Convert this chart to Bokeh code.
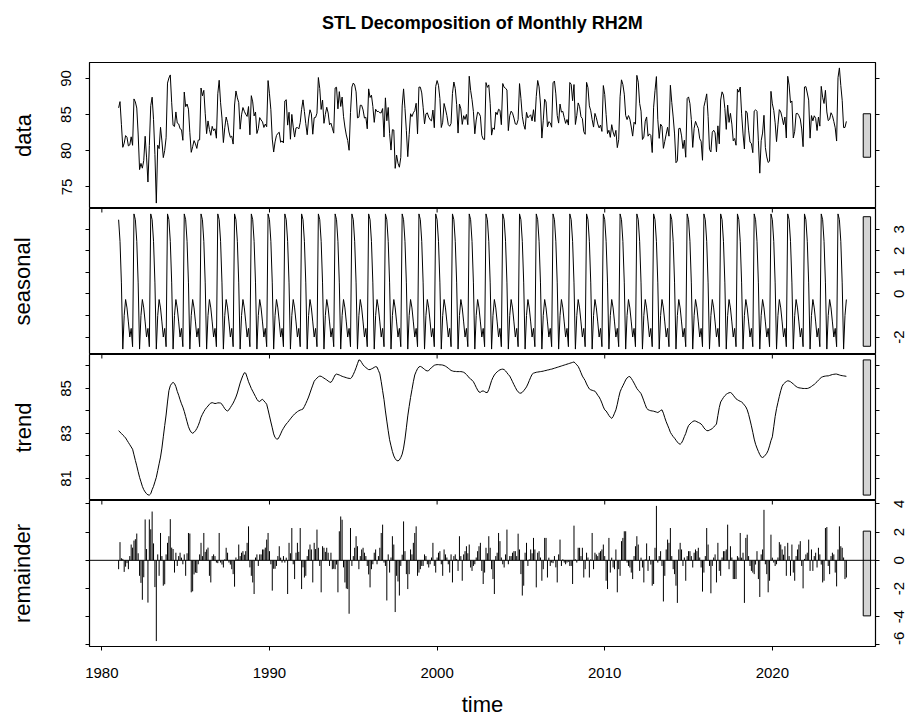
import math
from bokeh.plotting import figure
from bokeh.layouts import column, row
from bokeh.models import Range1d, LinearAxis, FixedTicker, Span
from bokeh.core.properties import value
from bokeh.embed import file_html
from bokeh.resources import INLINE

TITLE = "STL Decomposition of Monthly RH2M"
START_YEAR = 1981  # monthly series, January 1981 onwards

# periodic seasonal component (Jan..Dec)
SEASONAL_PATTERN = [3.44, 2.44, 0.51, -2.56, -1.00, -0.26, -0.65, -1.30, -2.00, -1.60, -2.45, 3.71]

TREND = [
    83.12, 83.06, 83.00, 82.93, 82.87, 82.80, 82.70, 82.60, 82.50, 82.40, 82.30, 82.05,  # 1981
    81.80, 81.56, 81.30, 81.05, 80.85, 80.65, 80.50, 80.40, 80.32, 80.27, 80.26, 80.32,  # 1982
    80.50, 80.65, 80.85, 81.05, 81.35, 81.65, 81.95, 82.35, 82.85, 83.35, 83.82, 84.40,  # 1983
    84.90, 85.12, 85.22, 85.27, 85.22, 85.08, 84.87, 84.70, 84.50, 84.32, 84.17, 83.98,  # 1984
    83.75, 83.52, 83.30, 83.15, 83.05, 83.01, 83.05, 83.12, 83.22, 83.35, 83.52, 83.72,  # 1985
    83.85, 83.97, 84.07, 84.15, 84.22, 84.30, 84.35, 84.37, 84.35, 84.33, 84.34, 84.36,  # 1986
    84.36, 84.35, 84.30, 84.20, 84.10, 84.03, 84.00, 84.05, 84.15, 84.25, 84.35, 84.48,  # 1987
    84.62, 84.80, 85.02, 85.24, 85.42, 85.58, 85.70, 85.68, 85.50, 85.30, 85.15, 85.00,  # 1988
    84.88, 84.76, 84.64, 84.52, 84.44, 84.42, 84.48, 84.52, 84.45, 84.38, 84.30, 84.05,  # 1989
    83.78, 83.51, 83.25, 82.98, 82.82, 82.76, 82.75, 82.85, 82.98, 83.12, 83.23, 83.33,  # 1990
    83.42, 83.49, 83.57, 83.65, 83.73, 83.80, 83.87, 83.92, 83.97, 84.01, 84.04, 84.06,  # 1991
    84.09, 84.20, 84.33, 84.47, 84.62, 84.80, 84.98, 85.15, 85.32, 85.40, 85.46, 85.52,  # 1992
    85.55, 85.54, 85.50, 85.46, 85.42, 85.38, 85.33, 85.29, 85.27, 85.35, 85.48, 85.60,  # 1993
    85.64, 85.62, 85.60, 85.57, 85.54, 85.52, 85.50, 85.48, 85.46, 85.45, 85.44, 85.50,  # 1994
    85.62, 85.76, 85.92, 86.10, 86.27, 86.25, 86.15, 86.05, 85.98, 85.93, 85.88, 85.84,  # 1995
    85.84, 85.87, 85.90, 85.94, 85.97, 85.95, 85.80, 85.65, 85.30, 84.90, 84.50, 84.00,  # 1996
    83.55, 83.12, 82.72, 82.45, 82.20, 82.00, 81.88, 81.80, 81.78, 81.82, 81.93, 82.08,  # 1997
    82.35, 82.75, 83.25, 83.78, 84.20, 84.60, 84.95, 85.30, 85.60, 85.75, 85.88, 85.96,  # 1998
    85.98, 85.95, 85.90, 85.85, 85.80, 85.78, 85.80, 85.86, 85.93, 85.98, 86.03, 86.05,  # 1999
    86.06, 86.06, 86.05, 86.05, 86.04, 86.02, 85.99, 85.95, 85.90, 85.85, 85.80, 85.78,  # 2000
    85.76, 85.76, 85.75, 85.75, 85.75, 85.75, 85.74, 85.72, 85.68, 85.62, 85.55, 85.47,  # 2001
    85.42, 85.37, 85.30, 85.18, 85.05, 84.93, 84.84, 84.83, 84.88, 84.89, 84.86, 84.82,  # 2002
    84.82, 84.95, 85.15, 85.35, 85.49, 85.60, 85.68, 85.74, 85.79, 85.83, 85.85, 85.86,  # 2003
    85.84, 85.78, 85.70, 85.62, 85.55, 85.43, 85.30, 85.17, 85.05, 84.93, 84.85, 84.80,  # 2004
    84.79, 84.83, 84.90, 84.98, 85.07, 85.20, 85.35, 85.50, 85.63, 85.68, 85.70, 85.72,  # 2005
    85.73, 85.74, 85.75, 85.76, 85.77, 85.79, 85.80, 85.82, 85.83, 85.85, 85.86, 85.88,  # 2006
    85.90, 85.92, 85.94, 85.96, 85.98, 86.00, 86.02, 86.04, 86.06, 86.08, 86.10, 86.12,  # 2007
    86.14, 86.16, 86.18, 86.12, 86.05, 85.98, 85.85, 85.70, 85.55, 85.45, 85.35, 85.20,  # 2008
    85.08, 84.98, 84.94, 84.92, 84.90, 84.88, 84.80, 84.70, 84.62, 84.50, 84.35, 84.18,  # 2009
    84.05, 84.00, 83.90, 83.80, 83.72, 83.67, 83.75, 83.90, 84.05, 84.30, 84.60, 84.85,  # 2010
    85.00, 85.12, 85.25, 85.38, 85.47, 85.52, 85.53, 85.45, 85.35, 85.24, 85.12, 85.00,  # 2011
    84.92, 84.85, 84.77, 84.62, 84.45, 84.28, 84.12, 84.06, 84.03, 84.01, 84.00, 83.99,  # 2012
    83.97, 83.95, 83.93, 83.97, 84.02, 84.05, 83.90, 83.70, 83.52, 83.37, 83.22, 83.05,  # 2013
    82.95, 82.86, 82.79, 82.70, 82.62, 82.55, 82.52, 82.58, 82.70, 82.86, 83.00, 83.20,  # 2014
    83.35, 83.42, 83.48, 83.53, 83.56, 83.55, 83.52, 83.49, 83.46, 83.42, 83.35, 83.25,  # 2015
    83.18, 83.13, 83.12, 83.15, 83.18, 83.22, 83.28, 83.35, 83.42, 83.80, 84.15, 84.40,  # 2016
    84.50, 84.60, 84.68, 84.74, 84.78, 84.81, 84.82, 84.78, 84.70, 84.62, 84.54, 84.50,  # 2017
    84.46, 84.43, 84.40, 84.34, 84.26, 84.18, 84.05, 83.85, 83.60, 83.34, 83.05, 82.75,  # 2018
    82.52, 82.35, 82.20, 82.06, 81.96, 81.93, 81.97, 82.04, 82.12, 82.25, 82.45, 82.68,  # 2019
    82.85, 83.30, 83.75, 84.10, 84.38, 84.65, 84.90, 85.10, 85.20, 85.26, 85.31, 85.34,  # 2020
    85.33, 85.30, 85.25, 85.20, 85.14, 85.09, 85.05, 85.03, 85.02, 85.01, 85.00, 85.00,  # 2021
    85.00, 85.00, 85.02, 85.05, 85.09, 85.14, 85.18, 85.24, 85.30, 85.37, 85.43, 85.49,  # 2022
    85.52, 85.54, 85.55, 85.56, 85.56, 85.58, 85.60, 85.62, 85.63, 85.64, 85.64, 85.62,  # 2023
    85.60, 85.58, 85.57, 85.56, 85.55, 85.54,                                            # 2024
]

REMAINDER = [
    -0.63, 1.29, 0.15, 0.10, -0.82, -0.45, -0.20, -0.63, 0.30, 1.12, 0.90, 1.40,  # 1981
    1.50, 1.90, 0.50, -1.10, -1.60, -2.80, -1.20, 2.90, 0.80, -3.00, 2.90, 2.20,  # 1982
    3.46, 1.20, -1.90, -5.73, 0.42, -1.10, 1.94, 0.30, -1.80, -1.70, 0.42, 1.24,  # 1983
    1.71, 2.92, 0.90, 0.80, -0.87, 0.54, -0.40, 0.30, 0.54, 0.19, -0.28, 0.42,  # 1984
    -1.10, 0.50, 1.94, 1.90, -2.27, -2.20, -1.00, -0.87, -0.90, -0.28, 0.42, 1.24,  # 1985
    0.30, 1.94, 0.60, 0.77, 0.90, -1.10, -1.57, 0.30, 0.42, 0.30, -0.16, -0.20,  # 1986
    1.94, -0.16, -0.30, -0.51, 0.07, 0.89, 0.54, -0.16, -0.30, -0.63, -0.98, -1.87,  # 1987
    0.20, 0.07, 1.12, 0.30, 0.54, 0.65, 0.40, 0.65, 1.24, 2.41, -0.50, -1.10,  # 1988
    -1.57, -2.39, 0.20, 0.42, -0.40, 0.42, 0.42, 0.77, 0.77, 0.90, 1.47, 1.94,  # 1989
    0.65, -0.28, -2.15, -0.60, -0.60, -0.40, 0.30, 1.00, 0.19, -0.16, 0.30, -0.16,  # 1990
    0.19, -2.39, 1.24, 0.50, 2.29, -0.28, -1.33, 0.54, 1.24, 0.60, 2.29, -2.04,  # 1991
    -0.50, -1.22, -1.10, 0.30, 0.77, 1.12, 0.77, -1.57, 1.24, 0.80, 2.18, 0.89,  # 1992
    -0.40, -2.27, 1.00, 0.89, 0.60, 0.89, 0.54, -0.40, 0.54, -0.63, -0.60, -0.63,  # 1993
    -0.30, -2.27, 2.06, 3.11, 2.88, -0.50, -1.57, -2.00, -2.04, -3.79, 2.29, -0.40,  # 1994
    0.30, 0.89, 1.71, 1.00, -0.63, 0.30, 0.77, 0.89, 0.54, 0.30, -0.40, -1.00,  # 1995
    -1.92, -0.63, -0.28, 0.54, 0.77, -0.28, 0.30, 0.89, 1.94, 2.53, -0.16, -0.40,  # 1996
    -2.85, 0.42, -0.87, 0.20, 1.71, 1.12, -3.67, -1.10, -1.50, -2.50, -0.40, 0.40,  # 1997
    2.76, 0.65, -0.98, -2.04, -0.98, 0.77, 0.42, 1.24, 1.94, 2.41, -1.10, -0.87,  # 1998
    -0.63, -0.40, -0.40, 0.42, 0.30, -0.28, -0.51, -0.28, 0.20, 1.24, -0.40, -0.87,  # 1999
    0.20, 0.54, 0.65, -0.28, -1.10, 0.77, 0.42, 0.20, -0.28, -0.87, 0.42, -1.57,  # 2000
    0.30, 0.42, 0.10, -0.75, 1.71, 0.30, -1.45, 0.42, 0.65, 1.00, 0.50, 1.12,  # 2001
    -0.51, -0.75, -0.40, -0.28, 0.20, 0.65, 1.00, 1.24, -0.75, -1.68, -0.87, 0.89,  # 2002
    0.50, 1.71, 0.89, -0.63, -1.33, -2.39, 0.30, 0.54, 1.94, 1.36, 0.20, -0.28,  # 2003
    -0.51, 0.42, 2.18, -0.28, 0.30, 0.30, 0.54, 0.65, 0.65, 0.30, 1.89, 0.77,  # 2004
    -0.98, -2.50, -1.80, 0.54, 1.24, -0.40, 0.07, 0.77, 0.50, 1.59, 0.77, -1.92,  # 2005
    0.54, 0.65, 0.20, -1.45, -0.63, 1.59, 1.59, -1.22, 0.19, -0.40, -0.16, -0.20,  # 2006
    0.30, -0.50, -1.57, 0.42, 1.47, -0.40, 0.07, -0.16, -0.28, -0.16, -0.10, -0.40,  # 2007
    -0.40, -1.68, 2.46, 0.07, -0.16, 0.89, 0.89, 0.30, 0.89, -1.22, -0.63, 0.54,  # 2008
    0.20, -1.22, 0.07, 1.94, -0.63, 0.54, 0.42, 0.30, 0.54, 0.65, 0.77, 1.12,  # 2009
    0.30, -1.45, -2.04, 1.59, -0.87, 0.19, -0.51, -0.63, 0.77, -2.27, -0.63, -1.10,  # 2010
    1.36, 1.59, 2.06, 2.06, -0.16, -0.40, -0.51, -0.87, -1.33, 0.30, 1.00, 1.71,  # 2011
    1.12, -0.75, 0.19, -0.51, -1.57, 0.07, 1.20, -0.75, 0.30, -0.30, -1.80, -1.68,  # 2012
    0.89, 3.86, -0.16, 0.30, 0.65, -0.40, -2.92, -1.10, 0.77, 1.47, 1.24, 2.29,  # 2013
    0.30, -0.63, -0.98, -1.80, -3.02, 0.77, 1.24, 0.77, -0.40, 0.20, -1.45, 0.30,  # 2014
    0.65, 0.65, 0.30, -0.51, 0.54, 0.77, 0.65, 0.89, 0.20, -0.51, -2.22, -0.87,  # 2015
    0.30, 2.29, 1.12, -0.40, -2.34, -0.40, 0.20, 0.42, -1.57, 1.24, -0.75, -1.10,  # 2016
    0.20, 0.65, 0.65, 0.77, 2.53, -0.63, 1.00, 0.20, -1.33, -1.33, -1.33, 0.30,  # 2017
    0.20, 1.94, 0.19, 0.54, -3.02, 1.59, 1.82, 0.30, -0.40, -0.75, -0.87, -0.98,  # 2018
    -0.30, 0.65, -1.33, -2.60, 0.42, 0.77, 3.58, -0.28, -0.98, -2.27, -1.45, 1.82,  # 2019
    0.19, -0.16, -0.40, -0.28, 0.20, 1.29, 1.12, 0.77, 0.40, 1.00, -1.10, 1.24,  # 2020
    0.30, -1.10, 1.12, -0.87, -1.45, 0.30, 0.77, 1.12, 1.36, -0.40, -1.99, 0.10,  # 2021
    0.42, 0.54, 1.47, -0.75, 0.77, -0.75, 0.30, 0.54, -0.51, 0.89, 0.42, -0.30,  # 2022
    -1.57, -1.45, 2.29, 2.36, -0.40, -0.98, 0.30, 0.54, 0.42, -0.87, -1.85, 0.77,  # 2023
    2.41, 1.00, 0.89, 0.20, -1.33, -1.22,                                          # 2024
]

PANEL_LABELS = ["data", "seasonal", "trend", "remainder"]
X_TICKS = [1980, 1990, 2000, 2010, 2020]
Y_TICKS = [
    [75, 80, 85, 90],
    [-2, -1, 0, 1, 2, 3],
    [81, 82, 83, 84, 85, 86],
    [-6, -4, -2, 0, 2, 4],
]
# ticks that carry a printed label (R drops overlapping ones)
Y_TICK_LABELLED = [
    [75, 80, 85, 90],
    [-2, 0, 1, 2, 3],
    [81, 83, 85],
    [-6, -4, -2, 0, 2, 4],
]

FONT = "Liberation Sans"
TICK_FS = "15px"
LAB_FS = "22px"

n = min(len(TREND), len(REMAINDER))
time = [START_YEAR + i / 12 for i in range(n)]
seasonal = [SEASONAL_PATTERN[i % 12] for i in range(n)]
trend = TREND[:n]
remainder = REMAINDER[:n]
# STL identity: data = seasonal + trend + remainder
data = [round(s + t + r, 3) for s, t, r in zip(seasonal, trend, remainder)]
series = [data, seasonal, trend, remainder]

# R-style 4% axis extension
span = time[-1] - time[0]
x_lo, x_hi = time[0] - 0.04 * span, time[-1] + 0.04 * span
xr = Range1d(x_lo, x_hi)

mx = min(max(s) - min(s) for s in series)   # common length of the range bars
dx = (x_hi - x_lo) / 64

W = 910
BL, BR = 89, 35
RP = 6                      # right border of panels whose labels sit in a side strip
FRAME_W = W - BL - BR
FRAME_H = 146
TOP_H = 62
BOTTOM_B = 75
RLAB_X = 17                 # centre of right-hand tick labels inside the side strip
EDGE_PX = 7                 # labels closer than this to the strip's lower edge are set upward

# title strip
head = figure(width=W, height=TOP_H, title=TITLE, x_range=xr, y_range=Range1d(0, 1),
              x_axis_location=None, y_axis_location=None,
              output_backend="svg", toolbar_location=None,
              min_border_left=BL, min_border_right=BR, min_border_top=0, min_border_bottom=0)
head.grid.visible = False
head.outline_line_color = None
head.title.align = "center"
head.title.text_font = FONT
head.title.text_font_size = "18px"
head.title.text_font_style = "bold"
head.title.text_color = "black"
head.title.standoff = 20

rows = [head]
for k in range(4):
    s = series[k]
    lo, hi = min(s), max(s)
    ext = 0.04 * (hi - lo)
    ylo, yhi = lo - ext, hi + ext
    yr = Range1d(ylo, yhi)
    first = k == 0
    last = k == 3
    labels_left = (k % 2 == 0)
    h = FRAME_H + (BOTTOM_B if last else 0)
    p = figure(
        width=BL + FRAME_W + (BR if labels_left else RP), height=h,
        x_range=xr, y_range=yr,
        x_axis_location=None, y_axis_location=None,
        output_backend="svg", toolbar_location=None,
        min_border_left=BL, min_border_right=BR if labels_left else RP,
        min_border_top=0, min_border_bottom=BOTTOM_B if last else 0,
    )
    p.grid.visible = False
    p.outline_line_color = "black"
    p.outline_line_width = 1.2
    p.background_fill_color = "white"
    p.border_fill_color = "white"

    # left axis: ticks, panel name, and (even panels) the printed labels
    ax = LinearAxis(ticker=FixedTicker(ticks=Y_TICKS[k]))
    ax.axis_line_color = None
    ax.major_tick_out = 4
    ax.major_tick_in = 0
    ax.minor_tick_line_color = None
    ax.major_tick_line_color = "black"
    ax.axis_label = PANEL_LABELS[k]
    ax.axis_label_text_font = FONT
    ax.axis_label_text_font_size = LAB_FS
    ax.axis_label_text_font_style = "normal"
    ax.axis_label_text_color = "black"
    if labels_left:
        ax.major_label_overrides = {v: (str(v) if v in Y_TICK_LABELLED[k] else "") for v in Y_TICKS[k]}
        ax.major_label_orientation = "vertical"
        ax.major_label_text_font = FONT
        ax.major_label_text_font_size = TICK_FS
        ax.major_label_text_color = "black"
        ax.major_label_standoff = 14
        ax.axis_label_standoff = 23
    else:
        ax.major_label_text_color = None
        ax.major_label_standoff = 0
        ax.axis_label_standoff = 51
    p.add_layout(ax, "left")

    # right axis: ticks only
    ra = LinearAxis(ticker=FixedTicker(ticks=Y_TICKS[k]))
    ra.axis_line_color = None
    ra.major_tick_out = 4
    ra.major_tick_in = 0
    ra.minor_tick_line_color = None
    ra.major_tick_line_color = "black"
    ra.major_label_text_color = None
    ra.major_label_text_font_size = "0px"
    ra.major_label_standoff = 0
    p.add_layout(ra, "right")

    if last:
        bx = LinearAxis(ticker=FixedTicker(ticks=X_TICKS))
        bx.axis_line_color = None
        bx.major_tick_out = 4
        bx.major_tick_in = 0
        bx.minor_tick_line_color = None
        bx.major_label_text_font = FONT
        bx.major_label_text_font_size = TICK_FS
        bx.major_label_text_color = "black"
        bx.major_label_standoff = 17
        bx.axis_label = "time"
        bx.axis_label_text_font = FONT
        bx.axis_label_text_font_size = LAB_FS
        bx.axis_label_text_font_style = "normal"
        bx.axis_label_text_color = "black"
        bx.axis_label_standoff = 11
        p.add_layout(bx, "below")

    # bottom ticks of the panel above, pointing down into this panel
    if not first:
        p.scatter(x=X_TICKS, y=[yhi] * len(X_TICKS), marker="dash", angle=math.pi / 2,
                  size=8, line_color="black", line_width=1)

    if last:
        p.add_layout(Span(location=0, dimension="width", line_color="black", line_width=1))
        p.segment(x0=time, y0=[0] * n, x1=time, y1=s, line_color="black", line_width=1)
    else:
        p.line(time, s, line_color="black", line_width=1)

    c = (lo + hi) / 2
    p.quad(left=[x_hi - dx], right=[x_hi - 0.4 * dx], bottom=[c - mx / 2], top=[c + mx / 2],
           fill_color="#d3d3d3", line_color="black", line_width=1)

    if labels_left:
        rows.append(p)
    else:
        # side strip carrying the right-hand tick labels (read bottom to top, like R)
        sw = BR - RP
        lab = figure(width=sw, height=h, x_range=Range1d(0, sw), y_range=yr,
                     x_axis_location=None, y_axis_location=None,
                     output_backend="svg", toolbar_location=None,
                     min_border_left=0, min_border_right=0, min_border_top=0,
                     min_border_bottom=BOTTOM_B if last else 0)
        lab.grid.visible = False
        lab.outline_line_color = None
        per_px = (yhi - ylo) / FRAME_H
        vals = Y_TICK_LABELLED[k]
        mid_vals = [v for v in vals if (v - ylo) / per_px >= EDGE_PX]
        low_vals = [v for v in vals if (v - ylo) / per_px < EDGE_PX]
        lab.text(x=[RLAB_X] * len(mid_vals), y=mid_vals, text=[str(v) for v in mid_vals],
                 angle=math.pi / 2, text_align="center", text_baseline="middle",
                 text_font=value(FONT), text_font_size=value(TICK_FS), text_color="black")
        if low_vals:
            # label starting at its tick and running upward, so the frame edge does not cut it
            lab.text(x=[RLAB_X] * len(low_vals), y=low_vals,
                     text=[str(v) for v in low_vals],
                     angle=math.pi / 2, text_align="left", text_baseline="middle",
                     text_font=value(FONT), text_font_size=value(TICK_FS), text_color="black")
        rows.append(row(p, lab, spacing=0))

layout = column(*rows, spacing=0)
open("out.html", "w").write(file_html(layout, INLINE))
